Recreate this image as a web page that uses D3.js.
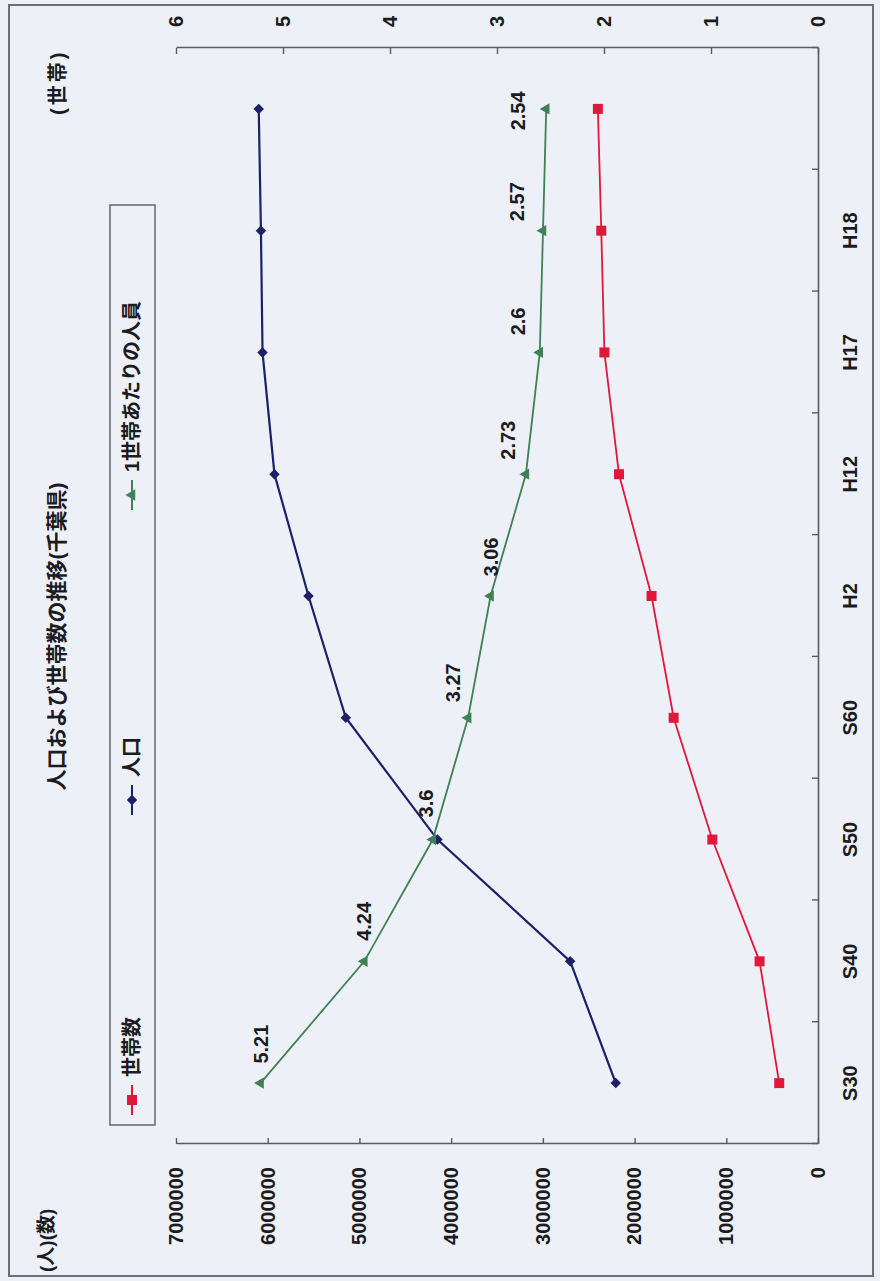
<!DOCTYPE html>
<html>
<head>
<meta charset="utf-8">
<script src="https://cdn.jsdelivr.net/npm/d3@7"></script>
<style>
  html, body { margin: 0; padding: 0; background: #ffffff; }
  svg { display: block; }
</style>
</head>
<body>
<script>
// ---- data -------------------------------------------------------------
const categories   = ["S30", "S40", "S50", "S60", "H2", "H12", "H17", "H18", ""];
const population   = [2205060, 2701770, 4149147, 5148163, 5555429, 5926285, 6056462, 6074000, 6098000];
const households   = [423000, 637000, 1152000, 1574000, 1815000, 2170000, 2329000, 2363000, 2400000];
const perHousehold = [5.21, 4.24, 3.6, 3.27, 3.06, 2.73, 2.6, 2.57, 2.54];
const popTicks     = [0, 1000000, 2000000, 3000000, 4000000, 5000000, 6000000, 7000000];
const rateTicks    = [0, 1, 2, 3, 4, 5, 6];
const seriesNames  = ["世帯数", "人口", "1世帯あたりの人員"];
const titleText    = "人口および世帯数の推移(千葉県)";
const leftTitle    = "(人)(数)";
const rightTitle   = "(世帯)";

// ---- layout (chart is laid out landscape, then turned a quarter to the left) ----
const W = 1281, H = 880;
const plot = { left: 137, right: 1233, top: 176, bottom: 818 };
const colors = { hh: "#e0183c", pop: "#1d2068", rate: "#3f8054" };
const numFont = "'Liberation Sans', Arial, 'Noto Sans CJK JP', sans-serif";
const textColor = "#1b1b22";
// label nudges for the per-household values (dx, dy from the point, in landscape frame)
const labelNudge = [[39, 0], [40, 0], [36, -7], [35, -15], [39, 0], [34, -18], [31, -22], [29, -26], [-2, -28]];

const svg = d3.select("body").append("svg")
  .attr("width", H).attr("height", W);

svg.append("rect").attr("width", H).attr("height", W).attr("fill", "#eef0f7");

const g = svg.append("g").attr("transform", `translate(0,${W}) rotate(-90)`);

// outer frame
g.append("rect")
  .attr("x", 5).attr("y", 9).attr("width", W - 10).attr("height", H - 16)
  .attr("fill", "none").attr("stroke", "#6e6e7a").attr("stroke-width", 2);

// ---- scales ----
const x = d3.scaleBand().domain(d3.range(categories.length)).range([plot.left, plot.right]);
const cx = i => x(i) + x.bandwidth() / 2;
const xEdge = d3.scaleLinear().domain([0, categories.length]).range([plot.left, plot.right]);
const yPop = d3.scaleLinear().domain([0, 7000000]).range([plot.bottom, plot.top]);
const yRate = d3.scaleLinear().domain([0, 6]).range([plot.bottom, plot.top]);

function styleAxis(sel) {
  sel.selectAll(".domain").attr("stroke", "#5a5a66").attr("stroke-width", 1.6);
  sel.selectAll(".tick line").attr("stroke", "#5a5a66").attr("stroke-width", 1.4);
  sel.selectAll(".tick text")
    .attr("font-family", numFont).attr("font-size", 20).attr("font-weight", "bold")
    .attr("fill", textColor);
}

// left value axis (population / households)
g.append("g")
  .attr("transform", `translate(${plot.left},0)`)
  .call(d3.axisLeft(yPop).tickValues(popTicks).tickFormat(d3.format("d"))
    .tickSizeInner(-6).tickSizeOuter(0).tickPadding(23))
  .call(styleAxis);

// right value axis (persons per household)
g.append("g")
  .attr("transform", `translate(${plot.right},0)`)
  .call(d3.axisRight(yRate).tickValues(rateTicks).tickFormat(d3.format("d"))
    .tickSizeInner(-6).tickSizeOuter(0).tickPadding(21))
  .call(styleAxis);

// category axis: ticks sit between categories
g.append("g")
  .attr("transform", `translate(0,${plot.bottom})`)
  .call(d3.axisBottom(xEdge).tickValues(d3.range(0, categories.length + 1)).tickFormat("")
    .tickSizeInner(-6).tickSizeOuter(0))
  .call(styleAxis);

g.append("g").selectAll("text")
  .data(categories)
  .join("text")
  .attr("x", (d, i) => cx(i))
  .attr("y", plot.bottom + 32)
  .attr("text-anchor", "middle")
  .attr("dominant-baseline", "central")
  .attr("font-family", numFont).attr("font-size", 20).attr("font-weight", "bold")
  .attr("fill", textColor)
  .text(d => d);

// ---- series ----
const idx = d3.range(categories.length);
function drawSeries(values, yScale, color, width, symbolType, size, rotate) {
  const line = d3.line().x(i => cx(i)).y(i => yScale(values[i]));
  g.append("path").datum(idx)
    .attr("d", line).attr("fill", "none")
    .attr("stroke", color).attr("stroke-width", width);
  const sym = d3.symbol().type(symbolType).size(size);
  g.append("g").selectAll("path")
    .data(idx).join("path")
    .attr("d", sym)
    .attr("transform", i => `translate(${cx(i)},${yScale(values[i])}) rotate(${rotate})`)
    .attr("fill", color);
}

drawSeries(households, yPop, colors.hh, 1.8, d3.symbolSquare, 100, 0);
drawSeries(population, yPop, colors.pop, 2.2, d3.symbolSquare, 55, 45);
drawSeries(perHousehold, yRate, colors.rate, 1.8, d3.symbolTriangle, 55, 0);

// value labels for persons per household
g.append("g").selectAll("text")
  .data(idx).join("text")
  .attr("x", i => cx(i) + labelNudge[i][0])
  .attr("y", i => yRate(perHousehold[i]) + labelNudge[i][1])
  .attr("text-anchor", "middle")
  .attr("dominant-baseline", "central")
  .attr("font-family", numFont).attr("font-size", 20).attr("font-weight", "bold")
  .attr("fill", textColor)
  .text(i => perHousehold[i]);

// ---- titles ----
g.append("text")
  .attr("x", W / 2 + 4).attr("y", 56)
  .attr("text-anchor", "middle").attr("dominant-baseline", "central")
  .attr("font-family", numFont).attr("font-size", 21).attr("font-weight", "bold")
  .attr("fill", textColor)
  .text(titleText);

g.append("text")
  .attr("x", 9).attr("y", 46)
  .attr("text-anchor", "start").attr("dominant-baseline", "central")
  .attr("font-family", numFont).attr("font-size", 19).attr("font-weight", "bold")
  .attr("fill", textColor)
  .text(leftTitle);

g.append("text")
  .attr("x", 1166).attr("y", 58)
  .attr("text-anchor", "start").attr("dominant-baseline", "central")
  .attr("font-family", numFont).attr("font-size", 20).attr("font-weight", "bold")
  .attr("letter-spacing", 3)
  .attr("fill", textColor)
  .text(rightTitle);

// ---- legend ----
const legend = g.append("g");
legend.append("rect")
  .attr("x", 156).attr("y", 110).attr("width", 920).attr("height", 45)
  .attr("fill", "none").attr("stroke", "#6e6e7a").attr("stroke-width", 1.6);

const legendItems = [
  { name: seriesNames[0], color: colors.hh, type: d3.symbolSquare, size: 100, rot: 0, x: 166 },
  { name: seriesNames[1], color: colors.pop, type: d3.symbolSquare, size: 55, rot: 45, x: 466 },
  { name: seriesNames[2], color: colors.rate, type: d3.symbolTriangle, size: 55, rot: 0, x: 771 }
];
const li = legend.selectAll("g.item").data(legendItems).join("g")
  .attr("class", "item")
  .attr("transform", d => `translate(${d.x},132)`);
li.append("line").attr("x1", 0).attr("x2", 30)
  .attr("stroke", d => d.color).attr("stroke-width", 2);
li.append("path")
  .attr("d", d => d3.symbol().type(d.type).size(d.size)())
  .attr("transform", d => `translate(15,0) rotate(${d.rot})`)
  .attr("fill", d => d.color);
li.append("text")
  .attr("x", 38).attr("y", 0)
  .attr("dominant-baseline", "central")
  .attr("font-family", numFont).attr("font-size", 20).attr("font-weight", "bold")
  .attr("fill", textColor)
  .text(d => d.name);
</script>
</body>
</html>
